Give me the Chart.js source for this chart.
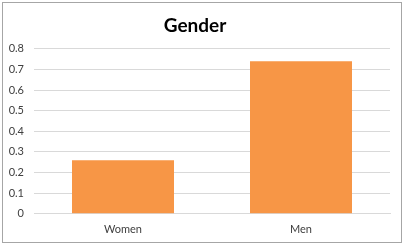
<!DOCTYPE html>
<html>
<head>
<meta charset="utf-8">
<script src="https://cdn.jsdelivr.net/npm/chart.js@4"></script>
<style>
  html, body { margin: 0; padding: 0; background: #fff; }
  #wrap { position: relative; width: 405px; height: 245px; }
  #frame { position: absolute; left: 2px; top: 2px; width: 398px; height: 239px; border: 1px solid #a6a6a6; pointer-events: none; }
</style>
</head>
<body>
<div id="wrap">
  <canvas id="genderChart" width="405" height="245"></canvas>
  <div id="frame"></div>
</div>
<script>
// data
const categories = ['Women', 'Men'];
const shares = [0.26, 0.74];
const yTicks = [0, 0.1, 0.2, 0.3, 0.4, 0.5, 0.6, 0.7, 0.8];

const ctx = document.getElementById('genderChart').getContext('2d');

new Chart(ctx, {
  type: 'bar',
  data: {
    labels: categories,
    datasets: [{
      label: 'Gender',
      data: shares,
      backgroundColor: '#f79646',
      borderWidth: 0,
      barPercentage: 0.573,
      categoryPercentage: 1
    }]
  },
  options: {
    responsive: false,
    animation: false,
    layout: { padding: { left: 0, right: 15, top: 0, bottom: 0 } },
    plugins: {
      legend: { display: false },
      tooltip: { enabled: false },
      title: {
        display: true,
        text: 'Gender',
        color: '#000',
        font: { family: 'Lato', size: 19, weight: 'bold' },
        padding: { top: 14, bottom: 12 }
      }
    },
    scales: {
      x: {
        grid: { display: false, drawTicks: false },
        border: { color: '#d9d9d9', width: 1 },
        ticks: { color: '#404040', font: { family: 'Lato', size: 11 }, padding: 9 }
      },
      y: {
        min: 0,
        max: yTicks[yTicks.length - 1],
        afterBuildTicks: function(axis) {
          axis.ticks = yTicks.map(v => ({ value: v }));
        },
        afterFit: function(axis) { axis.width = 34; },
        grid: { color: '#d9d9d9', drawTicks: false },
        border: { display: false },
        ticks: {
          color: '#404040',
          font: { family: 'Lato', size: 11 },
          padding: 10,
          callback: function(v) { return String(Math.round(v * 10) / 10); }
        }
      }
    }
  }
});
</script>
</body>
</html>
